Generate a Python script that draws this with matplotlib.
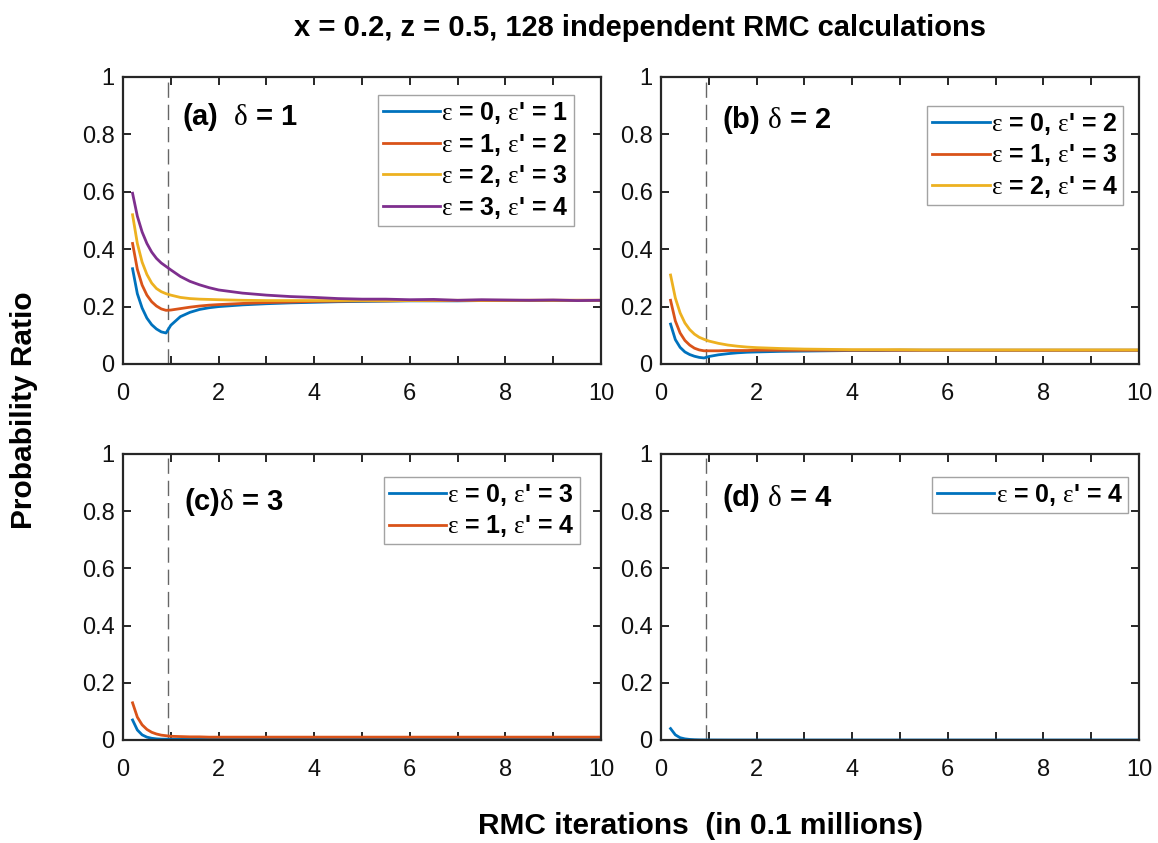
import matplotlib
matplotlib.use("Agg")
import matplotlib.pyplot as plt
import numpy as np

plt.rcParams['font.family'] = ['Liberation Sans', 'DejaVu Sans']
plt.rcParams['mathtext.fontset'] = 'custom'
plt.rcParams['mathtext.rm'] = 'Liberation Serif'
plt.rcParams['mathtext.it'] = 'Liberation Serif'
plt.rcParams['mathtext.bf'] = 'Liberation Sans:bold'

x = [0.2, 0.3, 0.4, 0.5, 0.6, 0.7, 0.8, 0.9, 1.0, 1.2, 1.4, 1.6, 1.8, 2.0,
     2.5, 3.0, 3.5, 4.0, 4.5, 5.0, 5.5, 6.0, 6.5, 7.0, 7.5, 8.0, 8.5, 9.0, 9.5, 10.0]

# panel (a) delta = 1
a_e0 = [0.332, 0.245, 0.195, 0.160, 0.137, 0.122, 0.112, 0.108, 0.135, 0.165, 0.180, 0.190, 0.196, 0.200,
        0.206, 0.210, 0.213, 0.215, 0.217, 0.218, 0.219, 0.220, 0.220, 0.220, 0.221, 0.221, 0.221, 0.221, 0.221, 0.221]
a_e1 = [0.420, 0.330, 0.275, 0.240, 0.217, 0.202, 0.192, 0.187, 0.188, 0.193, 0.198, 0.202, 0.205, 0.207,
        0.211, 0.214, 0.216, 0.218, 0.219, 0.220, 0.220, 0.221, 0.221, 0.221, 0.221, 0.221, 0.222, 0.222, 0.222, 0.222]
a_e2 = [0.520, 0.420, 0.355, 0.312, 0.282, 0.263, 0.252, 0.245, 0.240, 0.232, 0.228, 0.226, 0.225, 0.224,
        0.222, 0.221, 0.221, 0.221, 0.221, 0.221, 0.221, 0.221, 0.222, 0.222, 0.222, 0.222, 0.222, 0.222, 0.222, 0.222]
a_e3 = [0.595, 0.515, 0.460, 0.420, 0.390, 0.368, 0.352, 0.340, 0.328, 0.305, 0.288, 0.276, 0.266, 0.258,
        0.247, 0.240, 0.235, 0.232, 0.228, 0.226, 0.226, 0.224, 0.225, 0.222, 0.224, 0.223, 0.222, 0.223, 0.221, 0.222]

# panel (b) delta = 2
b_e0 = [0.139, 0.085, 0.058, 0.042, 0.033, 0.027, 0.023, 0.021, 0.026, 0.032, 0.036, 0.039, 0.041, 0.042,
        0.044, 0.045, 0.046, 0.047, 0.047, 0.048, 0.048, 0.048, 0.048, 0.048, 0.048, 0.048, 0.048, 0.048, 0.048, 0.048]
b_e1 = [0.222, 0.150, 0.108, 0.082, 0.066, 0.055, 0.049, 0.046, 0.046, 0.046, 0.047, 0.047, 0.047, 0.048,
        0.048, 0.048, 0.048, 0.048, 0.048, 0.048, 0.048, 0.048, 0.048, 0.048, 0.048, 0.048, 0.048, 0.048, 0.048, 0.048]
b_e2 = [0.310, 0.230, 0.178, 0.143, 0.120, 0.104, 0.093, 0.086, 0.080, 0.072, 0.066, 0.062, 0.059, 0.057,
        0.054, 0.052, 0.051, 0.050, 0.050, 0.050, 0.049, 0.049, 0.049, 0.049, 0.049, 0.049, 0.049, 0.049, 0.049, 0.049]

# panel (c) delta = 3
c_e0 = [0.070, 0.035, 0.018, 0.010, 0.006, 0.004, 0.003, 0.003, 0.003, 0.003, 0.003, 0.003, 0.003, 0.003,
        0.003, 0.003, 0.003, 0.003, 0.003, 0.003, 0.003, 0.003, 0.003, 0.003, 0.003, 0.003, 0.003, 0.003, 0.003, 0.003]
c_e1 = [0.130, 0.080, 0.053, 0.037, 0.027, 0.021, 0.017, 0.015, 0.013, 0.012, 0.011, 0.011, 0.010, 0.010,
        0.010, 0.010, 0.010, 0.010, 0.010, 0.010, 0.010, 0.010, 0.010, 0.010, 0.010, 0.010, 0.010, 0.010, 0.010, 0.010]

# panel (d) delta = 4
d_e0 = [0.040, 0.018, 0.008, 0.004, 0.002, 0.001, 0.0005, 0.0003, 0.0002, 0.0001, 0.0, 0.0, 0.0, 0.0,
        0.0, 0.0, 0.0, 0.0, 0.0, 0.0, 0.0, 0.0, 0.0, 0.0, 0.0, 0.0, 0.0, 0.0, 0.0, 0.0]

colors = ['#0072BD', '#D95319', '#EDB120', '#7E2F8E']
dash_x = 0.95

panels = [
    ("(a)  $\\mathrm{\\delta}$ = 1", [a_e0, a_e1, a_e2, a_e3], [(0, 1), (1, 2), (2, 3), (3, 4)]),
    ("(b) $\\mathrm{\\delta}$ = 2", [b_e0, b_e1, b_e2], [(0, 2), (1, 3), (2, 4)]),
    ("(c)$\\mathrm{\\delta}$ = 3", [c_e0, c_e1], [(0, 3), (1, 4)]),
    ("(d) $\\mathrm{\\delta}$ = 4", [d_e0], [(0, 4)]),
]

fig = plt.figure(figsize=(11.58, 8.43), dpi=100)
W, H = 1158, 843
rects = [(123, 77, 601, 364), (661, 77, 1139, 364), (123, 454, 601, 740), (661, 454, 1139, 740)]
label_pos = [(0.123, 0.86), (0.128, 0.85), (0.128, 0.832), (0.128, 0.846)]
legend_anchor = [(0.943, 0.937), (0.967, 0.899), (0.956, 0.92), (0.977, 0.92)]

for (title, series, labels), (l, t, r, b), lp, la in zip(panels, rects, label_pos, legend_anchor):
    ax = fig.add_axes([l / W, 1 - b / H, (r - l) / W, (b - t) / H])
    ax.axvline(dash_x, color='#666666', lw=1.0, ls=(0, (11, 5)), zorder=1)
    for i, (ys, (e, ep)) in enumerate(zip(series, labels)):
        lab = "$\\mathrm{\\varepsilon}$ = %d, $\\mathrm{\\varepsilon}$' = %d" % (e, ep)
        ax.plot(x, ys, color=colors[i], lw=2.0, label=lab, zorder=2)
    ax.set_xlim(0, 10)
    ax.set_ylim(0, 1)
    ax.set_xticks(np.arange(0, 11, 1))
    ax.set_xticklabels([str(v) if v % 2 == 0 else '' for v in range(0, 11)])
    ax.set_yticks([0, 0.2, 0.4, 0.6, 0.8, 1])
    ax.set_yticklabels(['0', '0.2', '0.4', '0.6', '0.8', '1'])
    ax.tick_params(direction='in', top=True, right=True, length=6, width=1.4,
                   labelsize=17, colors='#262626', labelcolor='#111111')
    ax.tick_params(axis='x', pad=14)
    ax.tick_params(axis='y', pad=6)
    for s in ax.spines.values():
        s.set_linewidth(1.6)
        s.set_color('#262626')
    ax.text(lp[0], lp[1], title, transform=ax.transAxes, fontsize=21,
            fontweight='bold', va='center', ha='left')
    leg = ax.legend(loc='upper right', bbox_to_anchor=la,
                    prop={'weight': 'bold', 'size': 18}, frameon=True, fancybox=False,
                    edgecolor='#8c8c8c', handlelength=2.3, handletextpad=0.05,
                    borderpad=0.2, labelspacing=0.22, borderaxespad=0.0)
    leg.get_frame().set_linewidth(1.0)

fig.text(640 / W, 1 - 28 / H, "x = 0.2, z = 0.5, 128 independent RMC calculations",
         ha='center', va='center', fontsize=21, fontweight='bold')
fig.text(24 / W, 1 - 410 / H, "Probability Ratio", rotation=90, ha='center', va='center',
         fontsize=21.5, fontweight='bold')
fig.text(700 / W, 1 - 826 / H, "RMC iterations  (in 0.1 millions)", ha='center', va='center',
         fontsize=21.5, fontweight='bold')

fig.savefig("out.png", dpi=100)
